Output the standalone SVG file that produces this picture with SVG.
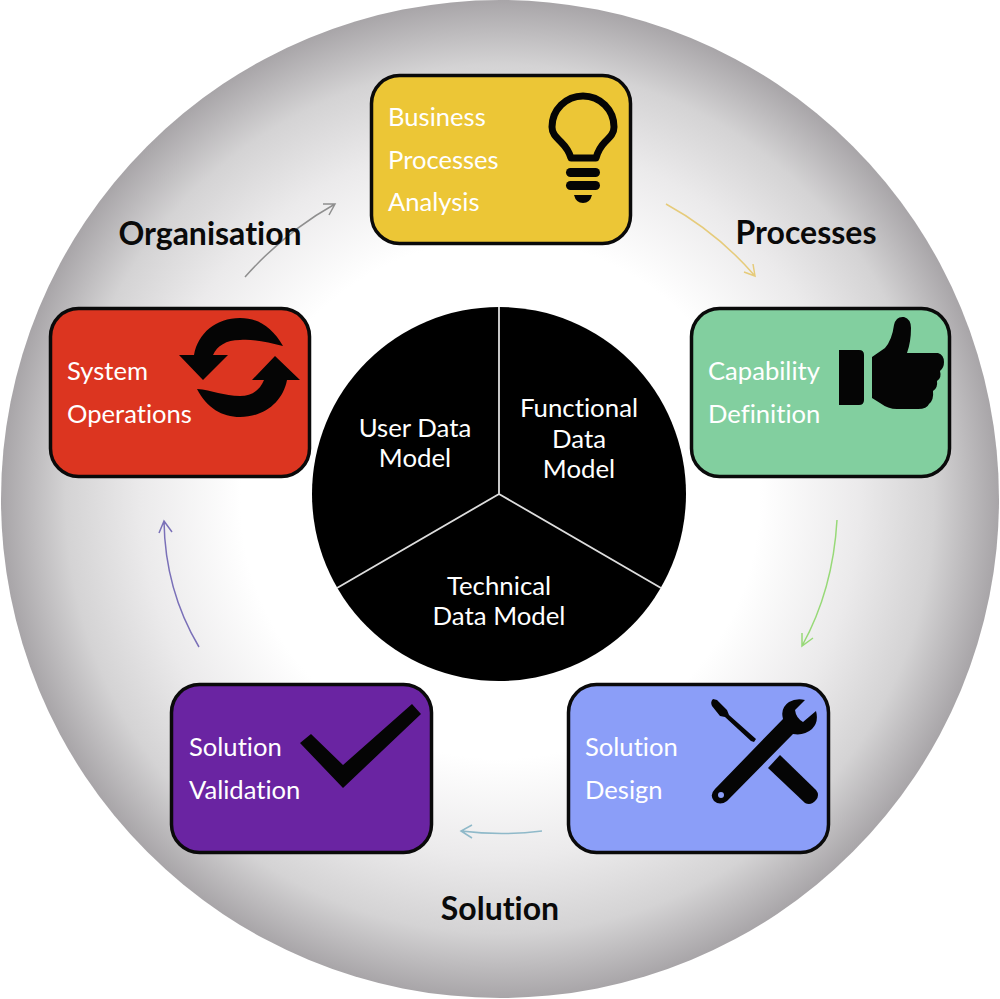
<svg xmlns="http://www.w3.org/2000/svg" width="1000" height="999" viewBox="0 0 1000 999">
<style>
.box{stroke:#0a0a0a;stroke-width:3.5}
.lbl{font-family:"Lato","Open Sans","Liberation Sans",sans-serif;font-size:25.6px;fill:#fff;font-variant-ligatures:none}
.lbl2{font-family:"Lato","Open Sans","Liberation Sans",sans-serif;font-size:25.8px;fill:#fff;text-anchor:middle;font-variant-ligatures:none}
.head{font-family:"Lato","Open Sans","Liberation Sans",sans-serif;font-size:32px;font-weight:700;fill:#0a0a0a;text-anchor:middle;font-variant-ligatures:none}
.ic{fill:#050505}
.conn{fill:none;stroke-width:1.5}
</style>
<defs>
<radialGradient id="bg" gradientUnits="userSpaceOnUse" cx="500" cy="499" r="499">
<stop offset="0" stop-color="#fff"/><stop offset="0.52" stop-color="#fff"/><stop offset="0.72" stop-color="#ebeaeb"/><stop offset="0.87" stop-color="#d4d3d4"/><stop offset="1" stop-color="#a8a5a8"/>
</radialGradient>
</defs>
<rect width="1000" height="999" fill="#fff"/>
<circle cx="500" cy="499" r="499" fill="url(#bg)"/>
<g id="connectors">
<path class="conn" stroke="#8f8f8f" d="M245 277Q285 232 335 204M323 204L335 204L329 215"/>
<path class="conn" stroke="#e6cb7a" d="M666 204Q717 232 755 276M744 272L755 276L753 264"/>
<path class="conn" stroke="#97d977" d="M837 520Q833 590 802 646M802 633L802 646L813 638"/>
<path class="conn" stroke="#8fb9c9" d="M542 831Q502 836 461 831M472 825L461 831L472 838"/>
<path class="conn" stroke="#7a70b8" d="M199 647Q165 590 164 521M159 533L164 521L172 532"/>
</g>
<g id="node-center">
<circle cx="499" cy="494" r="187" fill="#000"/>
<path d="M499 307V494L337 588M499 494L661 588" fill="none" stroke="#ddd" stroke-width="1.8"/>
<text class="lbl2" x="415" y="437">User Data</text><text class="lbl2" x="415" y="467">Model</text>
<text class="lbl2" x="579" y="417">Functional</text><text class="lbl2" x="579" y="448">Data</text><text class="lbl2" x="579" y="478">Model</text>
<text class="lbl2" x="499" y="595">Technical</text><text class="lbl2" x="499" y="625">Data Model</text>
</g>
<g id="node-business">
<rect class="box" x="371.500" y="75.500" width="259" height="168" rx="28" fill="#ecc636"/>
<text class="lbl" x="388" y="126">Business</text><text class="lbl" x="388" y="169">Processes</text><text class="lbl" x="388" y="211">Analysis</text>
<path d="M571 158C569 151 565 146 561 142C555 136 552 133 552 127A31 31 0 1 1 614 127C614 133 611 136 605 142C601 146 598 151 596 158H571Z" fill="none" stroke="#050505" stroke-width="7" stroke-linejoin="round"/>
<rect class="ic" x="566" y="168" width="34" height="9" rx="4.500"/><rect class="ic" x="566" y="181" width="34" height="9" rx="4.500"/>
<path class="ic" d="M574 195H592Q590 203 583 203Q576 203 574 195Z"/>
</g>
<g id="node-capability">
<rect class="box" x="691.500" y="308.500" width="258" height="168" rx="28" fill="#82cf9f"/>
<text class="lbl" x="708" y="380">Capability</text><text class="lbl" x="708" y="423">Definition</text>
<path class="ic" d="M839 350H859Q864 350 864 355V400Q864 405 859 405H839Z"/>
<path class="ic" d="M872 357L885 348Q892 340 894 325Q896 316 904 317Q911 319 911 328Q911 342 907 353H938Q944 355 944 362Q944 368 940 371Q942 378 937 381Q938 388 933 391Q934 400 929 404Q927 409 918 409H897Q888 409 880 403L872 398Z"/>
</g>
<g id="node-system">
<rect class="box" x="50.500" y="308.500" width="259" height="168" rx="28" fill="#dc3520"/>
<text class="lbl" x="67" y="380">System</text><text class="lbl" x="67" y="423">Operations</text>
<path class="ic" d="M283 346C272 327 258 318 240 318C216 318 198 333 194 355H179L203 380L228 355H213C217 346 226 340 240 340C254 339 268 342 283 346Z"/>
<path class="ic" d="M197 389C207 408 222 417 240 417C264 417 283 402 287 380H300L275 356L252 380H264C260 390 252 396 240 396C224 396 212 390 197 389Z"/>
</g>
<g id="node-design">
<rect class="box" x="568.500" y="684.500" width="260" height="168" rx="28" fill="#8b9ef8"/>
<text class="lbl" x="585" y="756">Solution</text><text class="lbl" x="585" y="799">Design</text>
<path class="ic" d="M713 699L717 700L727 710L729 715L756 739L754 742L751 741L725 717L720 716L712 706Q710 702 713 699Z"/>
<path class="ic" d="M780 755L768 768L805 803Q811 806 816 800Q820 795 816 790Z"/>
<path class="ic" d="M715 789L783 719Q780 708 789 702Q796 698 805 700L795 710Q796 718 803 722L816 711Q819 722 812 729Q804 736 793 734L727 801Q720 806 714 801Q709 795 715 789Z"/>
<circle cx="721" cy="795" r="3" fill="#8b9ef8"/>
</g>
<g id="node-validation">
<rect class="box" x="171.500" y="684.500" width="260" height="168" rx="28" fill="#6a24a2"/>
<text class="lbl" x="189" y="756">Solution</text><text class="lbl" x="189" y="799">Validation</text>
<path class="ic" d="M300 743L311 734L343 765L412 704L421 714L343 788Z"/>
</g>
<g id="labels">
<text class="head" x="210" y="245">Organisation</text>
<text class="head" x="806" y="244">Processes</text>
<text class="head" x="500" y="920">Solution</text>
</g>
</svg>
